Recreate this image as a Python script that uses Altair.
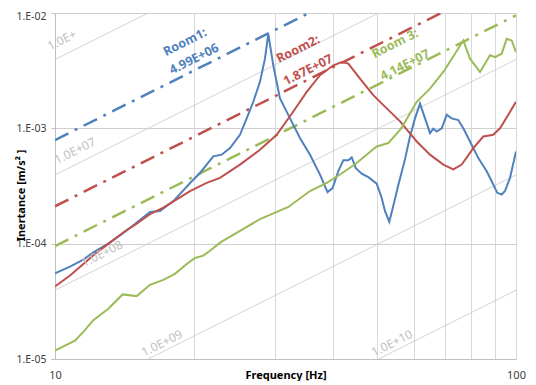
import altair as alt
import pandas as pd

# ---- measured curves (Frequency [Hz], Inertance [m/s^2/N]) ----
blue_f = [10.0, 10.78, 11.52, 12.11, 13.05, 13.95, 14.91, 16.07, 16.90, 18.06, 19.80, 20.63, 21.33,
          22.05, 22.99, 23.97, 25.19, 26.05, 26.92, 27.84, 28.54, 29.02, 29.75, 30.76, 32.35, 34.01,
          35.74, 37.57, 39.01, 40.0, 41.17, 42.21, 43.28, 44.02, 44.93, 46.27, 47.82, 49.86, 51.12,
          51.97, 53.10, 54.17, 55.54, 57.43, 58.89, 60.38, 61.91, 63.48, 65.08, 66.17, 67.30, 69.00,
          70.74, 72.53, 74.96, 76.86, 79.47, 82.84, 86.39, 89.28, 91.07, 93.11, 94.65, 97.05, 100.0]
blue_I = [5.53e-5, 6.32e-5, 7.27e-5, 8.40e-5, 1.00e-4, 1.21e-4, 1.48e-4, 1.88e-4, 1.92e-4, 2.34e-4,
          3.48e-4, 4.10e-4, 4.85e-4, 5.72e-4, 5.91e-4, 6.74e-4, 8.79e-4, 1.22e-3, 1.70e-3, 2.53e-3,
          4.02e-3, 6.59e-3, 3.52e-3, 1.82e-3, 1.22e-3, 8.22e-4, 5.91e-4, 3.97e-4, 2.80e-4, 3.03e-4,
          4.25e-4, 5.28e-4, 5.28e-4, 5.60e-4, 4.51e-4, 4.04e-4, 3.77e-4, 3.31e-4, 2.50e-4, 1.92e-4,
          1.55e-4, 2.12e-4, 3.21e-4, 5.38e-4, 8.49e-4, 1.22e-3, 1.64e-3, 1.22e-3, 9.08e-4, 9.91e-4,
          9.38e-4, 1.00e-3, 1.31e-3, 1.22e-3, 1.18e-3, 1.00e-3, 7.69e-4, 5.52e-4, 4.25e-4, 3.26e-4,
          2.76e-4, 2.67e-4, 2.86e-4, 3.72e-4, 6.31e-4]

red_f = [10.0, 10.78, 11.52, 12.32, 13.16, 14.07, 15.04, 16.07, 17.18, 18.37, 19.63, 21.33, 22.80,
         25.19, 27.84, 30.26, 32.88, 35.16, 37.57, 40.16, 41.88, 43.28, 45.88, 49.02, 52.43, 56.03,
         60.90, 65.08, 69.56, 73.11, 76.25, 80.79, 84.94, 89.28, 92.33, 96.23, 100.0]
red_I = [4.26e-5, 5.30e-5, 6.67e-5, 8.40e-5, 1.02e-4, 1.25e-4, 1.49e-4, 1.80e-4, 2.05e-4, 2.42e-4,
         2.86e-4, 3.37e-4, 3.72e-4, 4.85e-4, 6.53e-4, 8.79e-4, 1.40e-3, 2.07e-3, 2.89e-3, 3.52e-3,
         3.76e-3, 3.64e-3, 2.70e-3, 1.94e-3, 1.49e-3, 1.15e-3, 7.69e-4, 5.91e-4, 4.85e-4, 4.40e-4,
         4.85e-4, 6.74e-4, 8.49e-4, 8.79e-4, 1.00e-3, 1.31e-3, 1.70e-3]

green_f = [10.0, 11.05, 11.52, 12.11, 13.05, 14.02, 15.04, 16.07, 17.18, 18.20, 19.31, 20.12, 20.97,
           21.69, 22.80, 25.19, 27.84, 32.08, 35.74, 38.86, 41.52, 45.12, 49.86, 52.84, 56.03, 56.94,
           60.90, 65.08, 69.56, 73.74, 76.86, 79.47, 83.55, 87.83, 90.03, 93.11, 95.45, 97.88, 100.0]
green_I = [1.18e-5, 1.44e-5, 1.72e-5, 2.17e-5, 2.73e-5, 3.63e-5, 3.51e-5, 4.40e-5, 4.85e-5, 5.47e-5,
           6.67e-5, 7.52e-5, 7.87e-5, 8.69e-5, 1.02e-4, 1.29e-4, 1.63e-4, 2.08e-4, 2.86e-4, 3.37e-4,
           3.98e-4, 5.00e-4, 6.97e-4, 7.45e-4, 9.70e-4, 1.07e-3, 1.70e-3, 2.21e-3, 3.08e-3, 4.44e-3,
           5.78e-3, 4.02e-3, 3.08e-3, 4.30e-3, 4.15e-3, 4.44e-3, 5.97e-3, 5.78e-3, 4.58e-3]

# ---- constant-stiffness reference lines (end points) ----
k_names = ["1.0E+06", "1.0E+07", "1.0E+08", "1.0E+09", "1.0E+10"]
k_f = [[10, 15.92], [10, 50.33], [10, 100], [15.92, 100], [50.33, 100]]
k_I = [[3.948e-3, 1e-2], [3.948e-4, 1e-2], [3.948e-5, 3.948e-3], [1e-5, 3.948e-4], [1e-5, 3.948e-5]]

room_names = ["Room1", "Room2", "Room3"]
room_f = [[10, 35.55], [10, 68.8], [10, 100]]
room_I = [[7.91e-4, 1e-2], [2.11e-4, 1e-2], [9.54e-5, 9.54e-3]]

# ---- annotation texts ----
k_label_text = ["1.0E+", "1.0E+07", "1.0E+08", "1.0E+09", "1.0E+10"]
k_label_f = [10.35, 11.05, 12.65, 17.06, 53.82]
k_label_I = [5.82e-3, 6.37e-4, 8.18e-5, 1.37e-5, 1.37e-5]

room_label_text = ["Room1:", "4.99E+06", "Room2:", "1.87E+07", "Room 3:", "4.14E+07"]
room_label_f = [19.15, 20.03, 33.65, 35.39, 54.64, 57.4]
room_label_I = [5.59e-3, 3.99e-3, 4.87e-3, 3.21e-3, 5.43e-3, 3.54e-3]
room_label_room = ["Room1", "Room1", "Room2", "Room2", "Room3", "Room3"]

room_colors = {"Room1": "#4F81BD", "Room2": "#C0504D", "Room3": "#9BBB59"}
FONT = "Noto Sans"

# ---- tables ----
curves = pd.concat([
    pd.DataFrame({"f": blue_f, "I": blue_I, "room": "Room1"}),
    pd.DataFrame({"f": red_f, "I": red_I, "room": "Room2"}),
    pd.DataFrame({"f": green_f, "I": green_I, "room": "Room3"}),
], ignore_index=True)
curves["order"] = curves.index

klines = pd.DataFrame([
    {"f": f, "I": i, "k": n, "order": j}
    for n, fs, Is in zip(k_names, k_f, k_I) for j, (f, i) in enumerate(zip(fs, Is))
])
rlines = pd.DataFrame([
    {"f": f, "I": i, "room": n, "order": j}
    for n, fs, Is in zip(room_names, room_f, room_I) for j, (f, i) in enumerate(zip(fs, Is))
])
klabels = pd.DataFrame({"f": k_label_f, "I": k_label_I, "t": k_label_text})
rlabels = pd.DataFrame({"f": room_label_f, "I": room_label_I, "t": room_label_text,
                        "room": room_label_room})

xscale = alt.Scale(type="log", domain=[10, 100], nice=False)
yscale = alt.Scale(type="log", domain=[1e-5, 1e-2], nice=False)

xaxis = alt.Axis(
    values=[10, 20, 30, 40, 50, 60, 70, 80, 90, 100],
    labelExpr="datum.value == 10 || datum.value == 100 ? '' + datum.value : ''",
    labelOverlap=False, labelFlush=False, ticks=False, tickSize=0, labelPadding=10,
    labelFont=FONT, labelFontSize=11, labelColor="#404040",
    grid=True, gridColor="#d9d9d9", gridWidth=1,
    domainColor="#bfbfbf",
    title="Frequency [Hz]", titleFont=FONT, titleFontSize=11, titleFontWeight="bold",
    titleColor="#000000", titleY=16, titleBaseline="middle",
)
yaxis = alt.Axis(
    values=[1e-5, 1e-4, 1e-3, 1e-2],
    labelExpr="'1.E-0' + round(-log(datum.value) / LN10)",
    labelOffset={"condition": {"test": "datum.value == 0.01", "value": 3}, "value": 0},
    labelOverlap=False, labelFlush=False, ticks=True, tickSize=4, tickColor="#bfbfbf",
    labelPadding=5, labelFont=FONT, labelFontSize=10.5, labelColor="#404040",
    grid=True, gridColor="#cfcfcf", gridWidth=1,
    domainColor="#bfbfbf",
    title="Inertance [m/s² ]", titleFont=FONT, titleFontSize=11, titleFontWeight="bold",
    titleColor="#000000", titleX=-34, titleY=182, titleAngle=270, titleAlign="center",
    titleBaseline="middle",
)

X = alt.X("f:Q", scale=xscale, axis=xaxis)
Y = alt.Y("I:Q", scale=yscale, axis=yaxis)
room_color = alt.Color("room:N", scale=alt.Scale(domain=list(room_colors.keys()),
                                                range=list(room_colors.values())), legend=None)

k_layer = alt.Chart(klines).mark_line(color="#c8c8c8", strokeWidth=0.8, clip=True).encode(
    x=X, y=Y, detail="k:N", order="order:Q")

r_layer = alt.Chart(rlines).mark_line(strokeWidth=2.5, strokeDash=[15, 7, 3, 7], clip=True).encode(
    x=X, y=Y, color=room_color, detail="room:N", order="order:Q")

c_layer = alt.Chart(curves).mark_line(strokeWidth=2, clip=True).encode(
    x=X, y=Y, color=room_color, detail="room:N", order="order:Q")

kt_layer = alt.Chart(klabels).mark_text(
    angle=333.3, font=FONT, fontSize=12, color="#c0c0c0", align="center", baseline="middle"
).encode(x=X, y=Y, text="t:N")

rt_layer = alt.Chart(rlabels).mark_text(
    angle=333.3, font=FONT, fontSize=12.5, fontWeight="bold", align="center", baseline="middle"
).encode(x=X, y=Y, text="t:N", color=room_color)

chart = alt.layer(k_layer, r_layer, c_layer, kt_layer, rt_layer).properties(
    width=461, height=346,
    autosize=alt.AutoSizeParams(type="none"),
    padding={"left": 47, "top": 5, "right": 12, "bottom": 22},
).configure_view(strokeWidth=0).configure(background="white")

chart.save("out.html", embed_options={"renderer": "svg", "actions": False})
